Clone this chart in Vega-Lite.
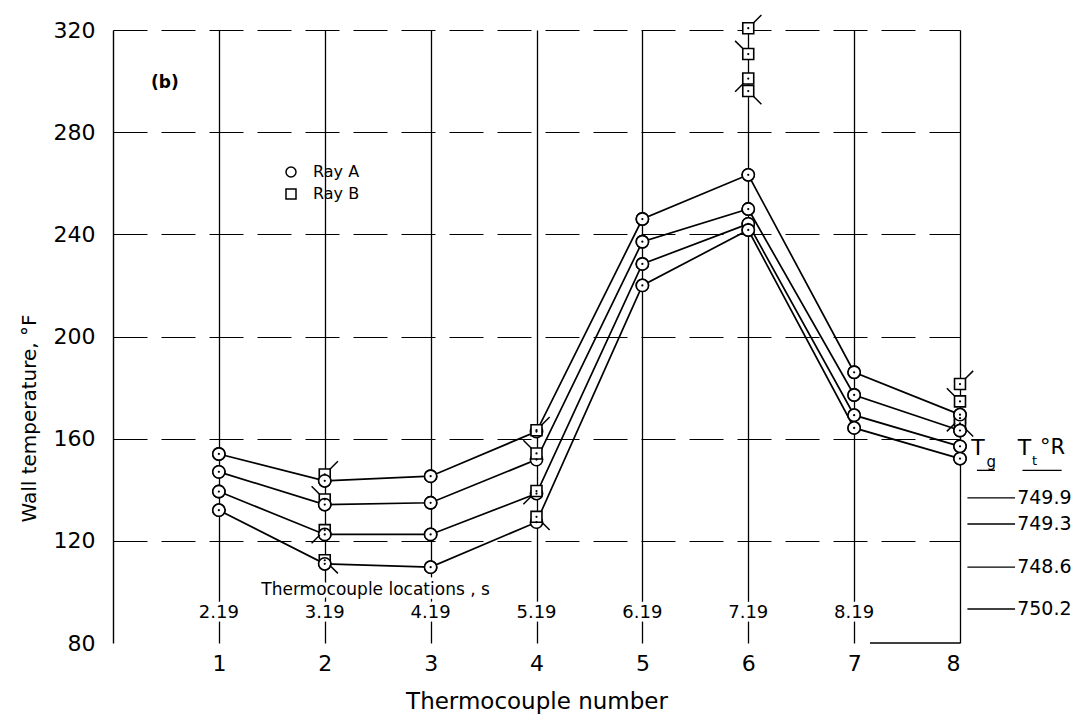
{
  "$schema": "https://vega.github.io/schema/vega-lite/v6.json",
  "width": 847,
  "height": 613,
  "autosize": "none",
  "padding": {"left": 113, "top": 30, "right": 116, "bottom": 80},
  "background": "white",
  "config": {"font": "DejaVu Sans", "view": {"stroke": null}},
  "datasets": {
    "points": [
      {"run": 1, "tc": 1, "temp": 154, "ray": "Ray A"},
      {"run": 1, "tc": 2, "temp": 143.5, "ray": "Ray A"},
      {"run": 1, "tc": 3, "temp": 145.3, "ray": "Ray A"},
      {"run": 1, "tc": 4, "temp": 162.8, "ray": "Ray A"},
      {"run": 1, "tc": 5, "temp": 246, "ray": "Ray A"},
      {"run": 1, "tc": 6, "temp": 263.3, "ray": "Ray A"},
      {"run": 1, "tc": 7, "temp": 186, "ray": "Ray A"},
      {"run": 1, "tc": 8, "temp": 169.4, "ray": "Ray A"},
      {"run": 2, "tc": 1, "temp": 147, "ray": "Ray A"},
      {"run": 2, "tc": 2, "temp": 134.2, "ray": "Ray A"},
      {"run": 2, "tc": 3, "temp": 134.9, "ray": "Ray A"},
      {"run": 2, "tc": 4, "temp": 151.8, "ray": "Ray A"},
      {"run": 2, "tc": 5, "temp": 237.1, "ray": "Ray A"},
      {"run": 2, "tc": 6, "temp": 249.9, "ray": "Ray A"},
      {"run": 2, "tc": 7, "temp": 177.1, "ray": "Ray A"},
      {"run": 2, "tc": 8, "temp": 163.2, "ray": "Ray A"},
      {"run": 3, "tc": 1, "temp": 139.3, "ray": "Ray A"},
      {"run": 3, "tc": 2, "temp": 122.5, "ray": "Ray A"},
      {"run": 3, "tc": 3, "temp": 122.5, "ray": "Ray A"},
      {"run": 3, "tc": 4, "temp": 138.5, "ray": "Ray A"},
      {"run": 3, "tc": 5, "temp": 228.4, "ray": "Ray A"},
      {"run": 3, "tc": 6, "temp": 244.1, "ray": "Ray A"},
      {"run": 3, "tc": 7, "temp": 169.2, "ray": "Ray A"},
      {"run": 3, "tc": 8, "temp": 157, "ray": "Ray A"},
      {"run": 4, "tc": 1, "temp": 132, "ray": "Ray A"},
      {"run": 4, "tc": 2, "temp": 111, "ray": "Ray A"},
      {"run": 4, "tc": 3, "temp": 109.7, "ray": "Ray A"},
      {"run": 4, "tc": 4, "temp": 127.3, "ray": "Ray A"},
      {"run": 4, "tc": 5, "temp": 220, "ray": "Ray A"},
      {"run": 4, "tc": 6, "temp": 241.7, "ray": "Ray A"},
      {"run": 4, "tc": 7, "temp": 164.2, "ray": "Ray A"},
      {"run": 4, "tc": 8, "temp": 152.2, "ray": "Ray A"},
      {"run": 1, "tc": 2, "temp": 146, "ray": "Ray B"},
      {"run": 1, "tc": 4, "temp": 163.3, "ray": "Ray B"},
      {"run": 1, "tc": 6, "temp": 320.7, "ray": "Ray B"},
      {"run": 1, "tc": 8, "temp": 181.4, "ray": "Ray B"},
      {"run": 2, "tc": 2, "temp": 136.2, "ray": "Ray B"},
      {"run": 2, "tc": 4, "temp": 154.2, "ray": "Ray B"},
      {"run": 2, "tc": 6, "temp": 310.6, "ray": "Ray B"},
      {"run": 2, "tc": 8, "temp": 174.6, "ray": "Ray B"},
      {"run": 3, "tc": 2, "temp": 124.2, "ray": "Ray B"},
      {"run": 3, "tc": 4, "temp": 139.5, "ray": "Ray B"},
      {"run": 3, "tc": 6, "temp": 301, "ray": "Ray B"},
      {"run": 3, "tc": 8, "temp": 168, "ray": "Ray B"},
      {"run": 4, "tc": 2, "temp": 112.4, "ray": "Ray B"},
      {"run": 4, "tc": 4, "temp": 129.4, "ray": "Ray B"},
      {"run": 4, "tc": 6, "temp": 296.1, "ray": "Ray B"},
      {"run": 4, "tc": 8, "temp": 166, "ray": "Ray B"}
    ],
    "locs": [
      {"tc": 1, "label": "2.19"},
      {"tc": 2, "label": "3.19"},
      {"tc": 3, "label": "4.19"},
      {"tc": 4, "label": "5.19"},
      {"tc": 5, "label": "6.19"},
      {"tc": 6, "label": "7.19"},
      {"tc": 7, "label": "8.19"}
    ],
    "tt": [
      {"label": "749.9", "temp": 136.8},
      {"label": "749.3", "temp": 126.6},
      {"label": "748.6", "temp": 109.7},
      {"label": "750.2", "temp": 93.3}
    ],
    "one": [{}]
  },
  "layer": [
    {
      "data": {"name": "points"},
      "transform": [{"filter": "datum.ray == 'Ray A'"}],
      "mark": {"type": "line", "color": "black", "strokeWidth": 1.7},
      "encoding": {
        "x": {
          "field": "tc", "type": "quantitative",
          "scale": {"domain": [0, 8], "nice": false, "zero": false},
          "axis": {
            "values": [1, 2, 3, 4, 5, 6, 7, 8], "format": "d",
            "title": "Thermocouple number",
            "grid": true, "gridColor": "black", "gridWidth": 1.3, "gridOpacity": 1,
            "domain": false, "ticks": false, "tickSize": 0,
            "labelFontSize": 22, "labelPadding": 10, "labelColor": "black",
            "titleFontSize": 23, "titleFontWeight": "normal", "titlePadding": 16, "titleColor": "black"
          }
        },
        "y": {
          "field": "temp", "type": "quantitative",
          "scale": {"domain": [80, 320], "nice": false, "zero": false},
          "axis": {
            "values": [80, 120, 160, 200, 240, 280, 320],
            "title": "Wall temperature, °F",
            "grid": true, "gridColor": "black", "gridWidth": 1.1,
            "gridDash": [34, 14],
            "gridOpacity": {"condition": {"test": "datum.value == 80", "value": 0}, "value": 1},
            "domain": true, "domainColor": "black", "domainWidth": 1.4,
            "ticks": false, "tickSize": 0,
            "labelFontSize": 22, "labelPadding": 18, "labelColor": "black",
            "titleFontSize": 20, "titleFontWeight": "normal", "titlePadding": 14, "titleColor": "black",
            "titleY": 388
          }
        },
        "detail": {"field": "run", "type": "nominal"}
      }
    },
    {
      "data": {"name": "points"},
      "transform": [{"filter": "datum.ray == 'Ray A'"}],
      "mark": {"type": "point", "filled": true, "fill": "white", "stroke": "black", "strokeWidth": 1.6, "size": 150, "opacity": 1},
      "encoding": {
        "x": {"field": "tc", "type": "quantitative"},
        "y": {"field": "temp", "type": "quantitative"},
        "shape": {
          "field": "ray", "type": "nominal",
          "scale": {"domain": ["Ray A", "Ray B"], "range": ["circle", "square"]},
          "legend": {
            "orient": "none", "legendX": 170, "legendY": 134, "title": null,
            "labelFontSize": 16, "labelColor": "black", "labelOffset": 14,
            "symbolSize": 100, "rowPadding": 6,
            "encode": {"symbols": {"update": {"stroke": {"value": "black"}, "fill": {"value": "white"}, "strokeWidth": {"value": 1.5}, "opacity": {"value": 1}}}}
          }
        }
      }
    },
    {
      "data": {"name": "points"},
      "transform": [{"filter": "datum.ray == 'Ray B'"}],
      "mark": {"type": "point", "filled": true, "fill": "white", "stroke": "black", "strokeWidth": 1.6, "size": 120, "opacity": 1},
      "encoding": {
        "x": {"field": "tc", "type": "quantitative"},
        "y": {"field": "temp", "type": "quantitative"},
        "shape": {"field": "ray", "type": "nominal"}
      }
    },
    {
      "data": {"name": "points"},
      "transform": [{"filter": "datum.ray == 'Ray A' && datum.tc != 4"}],
      "mark": {"type": "point", "shape": "circle", "filled": true, "fill": "white", "stroke": "black", "strokeWidth": 1.6, "size": 150, "opacity": 1},
      "encoding": {
        "x": {"field": "tc", "type": "quantitative"},
        "y": {"field": "temp", "type": "quantitative"}
      }
    },
    {
      "data": {"name": "points"},
      "transform": [{"filter": "datum.ray == 'Ray B' && datum.run == 1"}],
      "mark": {"type": "point", "shape": "M0.9,-0.9L2.4,-2.4", "filled": false, "stroke": "black", "strokeWidth": 1.5, "size": 120, "opacity": 1},
      "encoding": {
        "x": {"field": "tc", "type": "quantitative"},
        "y": {"field": "temp", "type": "quantitative"}
      }
    },
    {
      "data": {"name": "points"},
      "transform": [{"filter": "datum.ray == 'Ray B' && datum.run == 2"}],
      "mark": {"type": "point", "shape": "M-0.9,-0.9L-2.4,-2.4", "filled": false, "stroke": "black", "strokeWidth": 1.5, "size": 120, "opacity": 1},
      "encoding": {
        "x": {"field": "tc", "type": "quantitative"},
        "y": {"field": "temp", "type": "quantitative"}
      }
    },
    {
      "data": {"name": "points"},
      "transform": [{"filter": "datum.ray == 'Ray B' && datum.run == 3"}],
      "mark": {"type": "point", "shape": "M-0.9,0.9L-2.4,2.4", "filled": false, "stroke": "black", "strokeWidth": 1.5, "size": 120, "opacity": 1},
      "encoding": {
        "x": {"field": "tc", "type": "quantitative"},
        "y": {"field": "temp", "type": "quantitative"}
      }
    },
    {
      "data": {"name": "points"},
      "transform": [{"filter": "datum.ray == 'Ray B' && datum.run == 4"}],
      "mark": {"type": "point", "shape": "M0.9,0.9L2.4,2.4", "filled": false, "stroke": "black", "strokeWidth": 1.5, "size": 120, "opacity": 1},
      "encoding": {
        "x": {"field": "tc", "type": "quantitative"},
        "y": {"field": "temp", "type": "quantitative"}
      }
    },
    {
      "data": {"name": "points"},
      "mark": {"type": "point", "shape": "circle", "filled": true, "color": "black", "size": 5, "opacity": 1},
      "encoding": {
        "x": {"field": "tc", "type": "quantitative"},
        "y": {"field": "temp", "type": "quantitative"}
      }
    },
    {
      "data": {"name": "locs"},
      "mark": {"type": "text", "fontSize": 18, "fill": "white", "stroke": "white", "strokeWidth": 7, "align": "center", "baseline": "middle"},
      "encoding": {
        "x": {"field": "tc", "type": "quantitative"},
        "y": {"datum": 91.7, "type": "quantitative"},
        "text": {"field": "label"}
      }
    },
    {
      "data": {"name": "locs"},
      "mark": {"type": "text", "fontSize": 18, "color": "black", "align": "center", "baseline": "middle"},
      "encoding": {
        "x": {"field": "tc", "type": "quantitative"},
        "y": {"datum": 91.7, "type": "quantitative"},
        "text": {"field": "label"}
      }
    },
    {
      "data": {"name": "one"},
      "mark": {"type": "text", "fontSize": 17, "fill": "white", "stroke": "white", "strokeWidth": 7, "align": "center", "baseline": "middle"},
      "encoding": {
        "x": {"datum": 2.48, "type": "quantitative"},
        "y": {"datum": 100.7, "type": "quantitative"},
        "text": {"value": "Thermocouple locations , s"}
      }
    },
    {
      "data": {"name": "one"},
      "mark": {"type": "text", "fontSize": 17, "color": "black", "align": "center", "baseline": "middle"},
      "encoding": {
        "x": {"datum": 2.48, "type": "quantitative"},
        "y": {"datum": 100.7, "type": "quantitative"},
        "text": {"value": "Thermocouple locations , s"}
      }
    },
    {
      "data": {"name": "one"},
      "mark": {"type": "text", "fontSize": 17, "fontWeight": "bold", "color": "black", "align": "center", "baseline": "middle"},
      "encoding": {
        "x": {"datum": 0.49, "type": "quantitative"},
        "y": {"datum": 299.2, "type": "quantitative"},
        "text": {"value": "(b)"}
      }
    },
    {
      "data": {"name": "one"},
      "mark": {"type": "text", "fontSize": 22, "color": "black", "align": "center", "baseline": "middle"},
      "encoding": {
        "x": {"datum": 8.17, "type": "quantitative"},
        "y": {"datum": 156.3, "type": "quantitative"},
        "text": {"value": "T"}
      }
    },
    {
      "data": {"name": "one"},
      "mark": {"type": "text", "fontSize": 15, "color": "black", "align": "center", "baseline": "middle"},
      "encoding": {
        "x": {"datum": 8.295, "type": "quantitative"},
        "y": {"datum": 150.8, "type": "quantitative"},
        "text": {"value": "g"}
      }
    },
    {
      "data": {"name": "one"},
      "mark": {"type": "text", "fontSize": 22, "color": "black", "align": "center", "baseline": "middle"},
      "encoding": {
        "x": {"datum": 8.61, "type": "quantitative"},
        "y": {"datum": 156.3, "type": "quantitative"},
        "text": {"value": "T"}
      }
    },
    {
      "data": {"name": "one"},
      "mark": {"type": "text", "fontSize": 13, "color": "black", "align": "center", "baseline": "middle"},
      "encoding": {
        "x": {"datum": 8.705, "type": "quantitative"},
        "y": {"datum": 151.2, "type": "quantitative"},
        "text": {"value": "t"}
      }
    },
    {
      "data": {"name": "one"},
      "mark": {"type": "text", "fontSize": 21, "color": "black", "align": "left", "baseline": "middle"},
      "encoding": {
        "x": {"datum": 8.755, "type": "quantitative"},
        "y": {"datum": 156.3, "type": "quantitative"},
        "text": {"value": "°R"}
      }
    },
    {
      "data": {"name": "one"},
      "mark": {"type": "rule", "color": "black", "strokeWidth": 1.3},
      "encoding": {
        "x": {"datum": 8.16, "type": "quantitative"},
        "x2": {"datum": 8.33},
        "y": {"datum": 147.6, "type": "quantitative"}
      }
    },
    {
      "data": {"name": "one"},
      "mark": {"type": "rule", "color": "black", "strokeWidth": 1.3},
      "encoding": {
        "x": {"datum": 8.59, "type": "quantitative"},
        "x2": {"datum": 8.96},
        "y": {"datum": 147.6, "type": "quantitative"}
      }
    },
    {
      "data": {"name": "tt"},
      "mark": {"type": "rule", "color": "black", "strokeWidth": 1.4},
      "encoding": {
        "x": {"datum": 8.07, "type": "quantitative"},
        "x2": {"datum": 8.52},
        "y": {"field": "temp", "type": "quantitative"}
      }
    },
    {
      "data": {"name": "tt"},
      "mark": {"type": "text", "fontSize": 19, "color": "black", "align": "left", "baseline": "middle"},
      "encoding": {
        "x": {"datum": 8.54, "type": "quantitative"},
        "y": {"field": "temp", "type": "quantitative"},
        "text": {"field": "label"}
      }
    },
    {
      "data": {"name": "one"},
      "mark": {"type": "rule", "color": "black", "strokeWidth": 1.4},
      "encoding": {
        "x": {"datum": 7.15, "type": "quantitative"},
        "x2": {"datum": 8},
        "y": {"datum": 80, "type": "quantitative"}
      }
    }
  ]
}
